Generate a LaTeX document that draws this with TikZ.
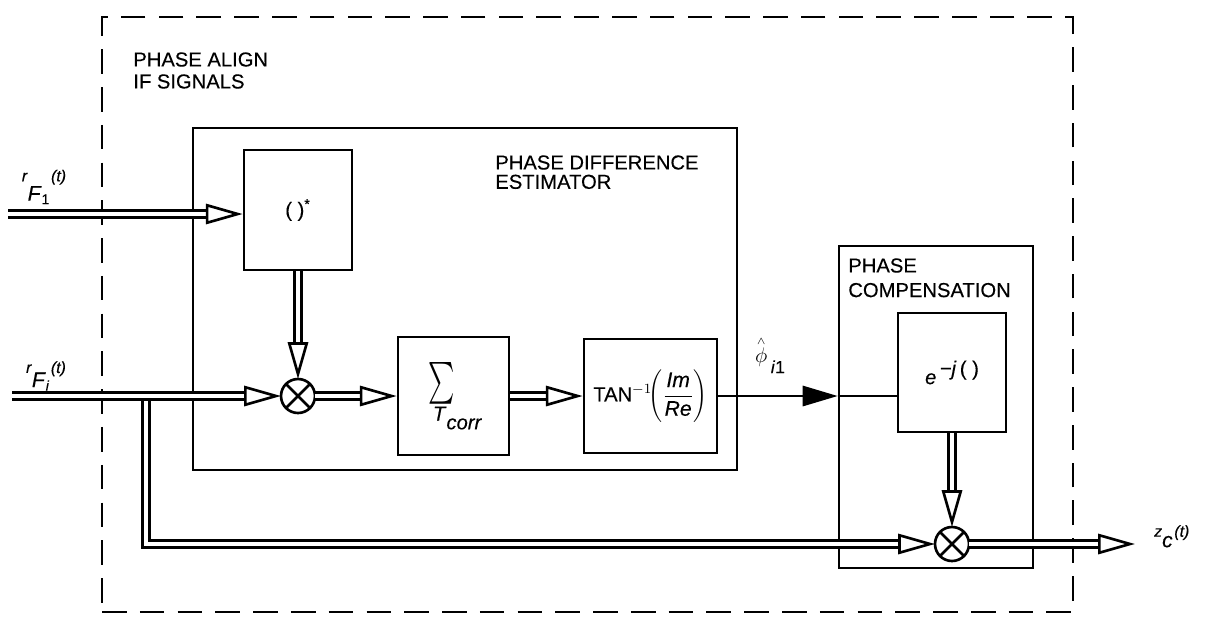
\documentclass[tikz,border=0pt]{standalone}
\usepackage{fontspec}
\setmainfont[FakeBold=0.3]{Liberation Sans}
\usepackage{graphicx}
\usetikzlibrary{arrows.meta}
\newcommand{\sublbl}[4]{{\small\textit{#1}}\raisebox{-#4}{\large\textit{#2}\raisebox{-2pt}{\footnotesize #3}}\kern1pt{\small\textit{(t)}}}

\begin{document}
\begin{tikzpicture}[x=0.02cm,y=-0.02cm,every node/.style={font=\fontsize{11.5}{13}\selectfont},
  box/.style={draw,line width=1.5pt,inner sep=0pt},
  mult/.style={draw,circle,line width=1.5pt,minimum size=0.68cm,inner sep=0pt,outer sep=0pt},
  dbl/.style={double,line width=1.6pt,double distance=2.2pt,-{Triangle[open,length=21pt,width=11.5pt,line width=1.5pt]}},
  phline/.style={line width=1.5pt,-{Triangle[length=20pt,width=11.5pt]}},
  head/.style={anchor=north west,align=left,inner sep=0pt}]
                \useasboundingbox (0,0) rectangle (1211,623);
                \node[box,dash pattern=on 14pt off 7.5pt,minimum width=19.42cm,minimum height=11.9cm] (align) at (587.5,314.5) {};
                \node[head,font=\fontsize{11.5}{12.5}\selectfont] (alignlbl) at (133,52) {PHASE ALIGN\\IF SIGNALS};
                \node[box,minimum width=10.88cm,minimum height=6.84cm] (pde) at (465,299) {};
                \node[head,font=\fontsize{11.5}{11}\selectfont] (pdelbl) at (495,155) {PHASE DIFFERENCE\\ESTIMATOR};
                \node[box,minimum width=3.88cm,minimum height=6.44cm] (comp) at (936,407) {};
                \node[head,font=\fontsize{11.5}{14}\selectfont] (complbl) at (848,258) {PHASE\\COMPENSATION};
                \node[box,minimum width=2.16cm,minimum height=2.4cm] (conj) at (298,210) {( )\textsuperscript{*}};
                \node[box,minimum width=2.22cm,minimum height=2.36cm,align=center] (sum) at (453.5,396)
                    {\hspace*{-14pt}\resizebox{15pt}{19pt}{$\sum$}\\[1pt]\hspace*{4.5pt}\textit{T}\raisebox{-5pt}{\textit{corr}}};
                \node[box,minimum width=2.66cm,minimum height=2.28cm] (tan) at (650.5,396)
                    {TAN$^{-1}\!\Bigg(\displaystyle\frac{\textit{\large Im}}{\textit{\large Re}}\Bigg)$};
                \node[box,minimum width=2.16cm,minimum height=2.38cm] (ebox) at (952,372.5)
                    {\textit{e}\,\raisebox{5pt}{\textit{\textminus j}\,( )}};
                \node[mult] (m1) at (298,396) {};
                \node[mult] (m2) at (952,544) {};
                \draw[line width=1.5pt] (m1.45) -- (m1.225) (m1.135) -- (m1.315);
                \draw[line width=1.5pt] (m2.45) -- (m2.225) (m2.135) -- (m2.315);
                \coordinate (in1) at (8,214);
                \coordinate (inI) at (12,396);
                \coordinate (tap) at (146,396);
                \coordinate (zout) at (1135,544);
                \draw[dbl] (tap) |- (m2.west);
                \draw[dbl] (in1) -- (in1 -| conj.west);
                \draw[dbl] (inI) -- (m1.west);
                \draw[dbl] (conj.south) -- (m1.north);
                \draw[dbl] (m1.east) -- (sum.west);
                \draw[dbl] (sum.east) -- (tan.west);
                \draw[dbl] (ebox.south) -- (m2.north);
                \draw[dbl] (m2.east) -- (zout);
                \draw[phline] (tan.east) -- (tan.east -| comp.west);
                \draw[line width=1.5pt] (tan.east -| comp.west) -- (tan.east -| ebox.west);
                \node (lbl1) at (44,187) {\sublbl{r}{F}{1}{11pt}};
                \node (lbli) at (46,376) {\sublbl{r}{F}{\textit{i}}{8pt}};
                \node[anchor=west] (lblz) at (1148,538) {\sublbl{z}{c}{}{6pt}};
                \node (philbl) at (770,355) {\large$\stackrel{\scriptscriptstyle\wedge}{\phi}$\,\raisebox{-6pt}{\normalsize\textit{i}1}};
            \end{tikzpicture}
\end{document}
